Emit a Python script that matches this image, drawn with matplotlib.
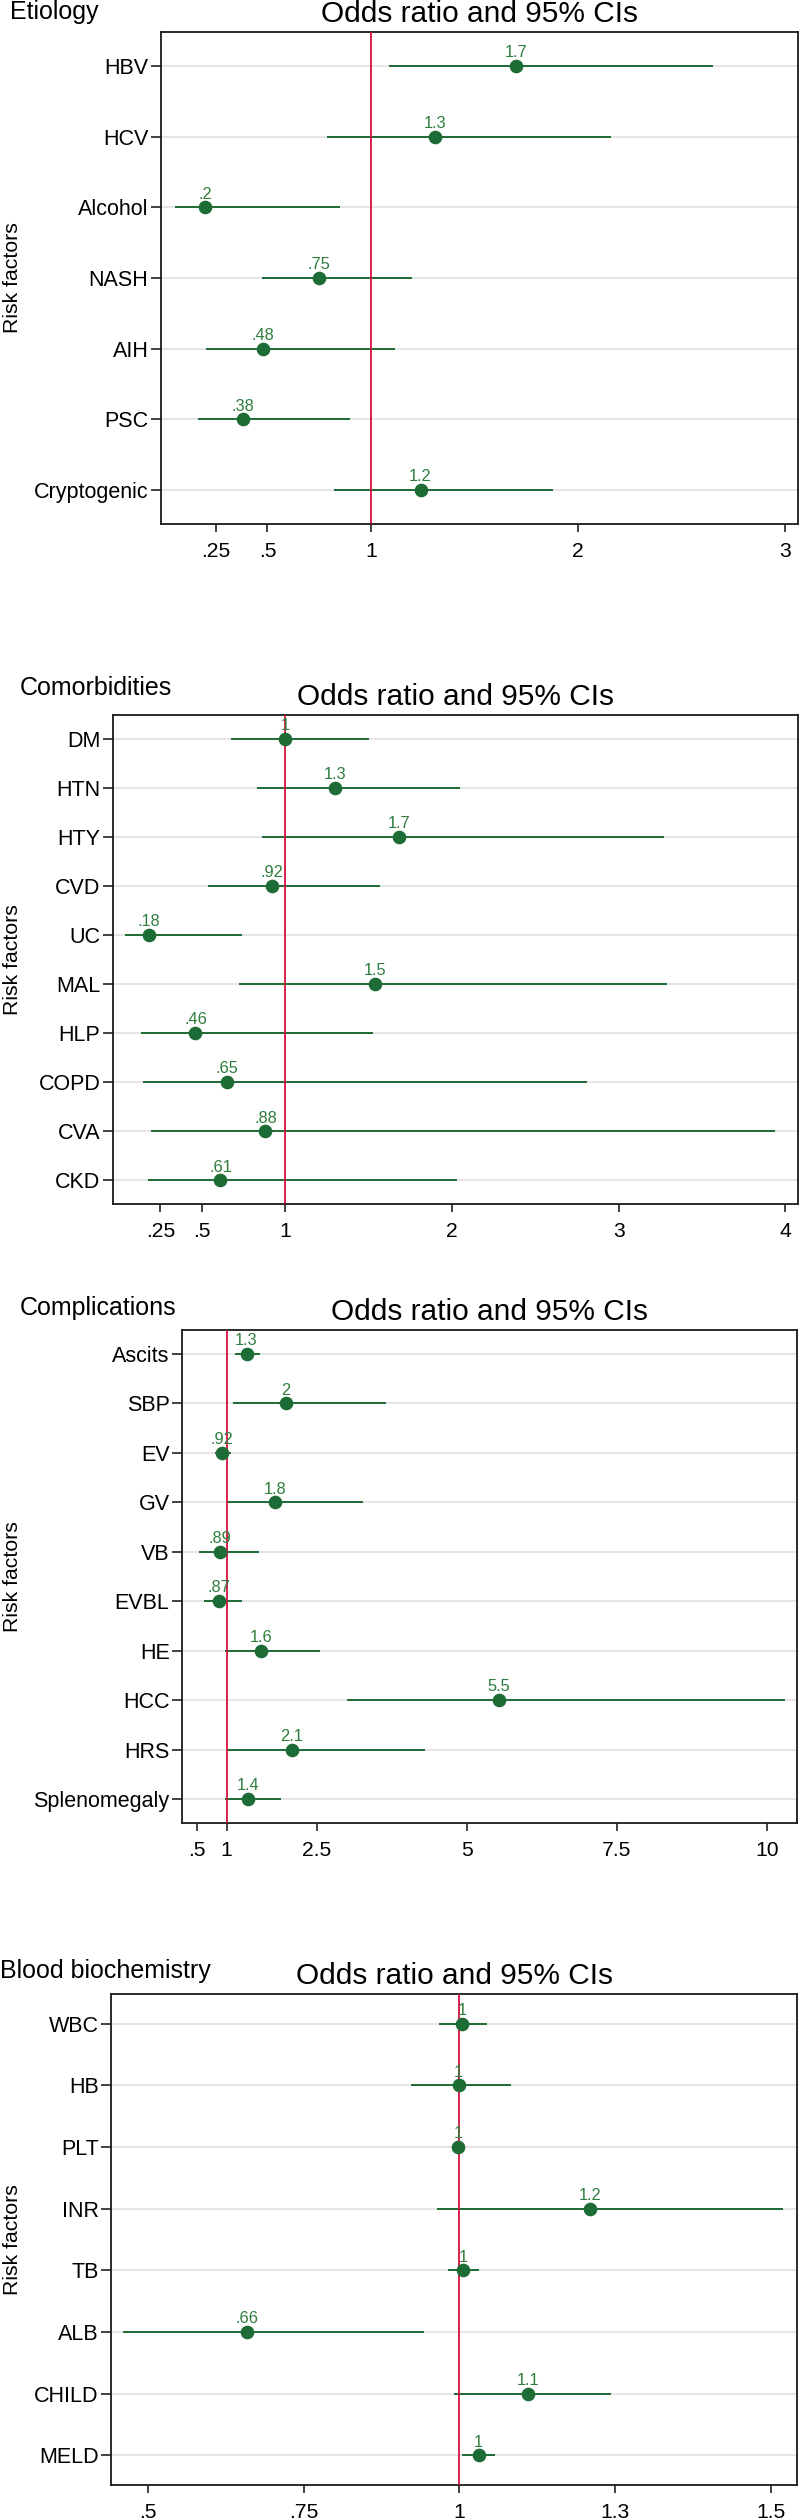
import numpy as np
import matplotlib.pyplot as plt

plt.rcParams['font.family'] = ['Liberation Sans', 'DejaVu Sans']

# Panel data: names, odds ratio, lower CI, upper CI
etio_names = ['HBV', 'HCV', 'Alcohol', 'NASH', 'AIH', 'PSC', 'Cryptogenic']
etio_or = [1.70, 1.31, 0.20, 0.75, 0.48, 0.38, 1.24]
etio_lo = [1.086, 0.79, 0.052, 0.473, 0.204, 0.165, 0.823]
etio_hi = [2.65, 2.16, 0.85, 1.20, 1.118, 0.897, 1.88]

comor_names = ['DM', 'HTN', 'HTY', 'CVD', 'UC', 'MAL', 'HLP', 'COPD', 'CVA', 'CKD']
comor_or = [1.00, 1.30, 1.68, 0.92, 0.18, 1.54, 0.46, 0.65, 0.88, 0.61]
comor_lo = [0.674, 0.828, 0.862, 0.535, 0.04, 0.723, 0.135, 0.145, 0.194, 0.178]
comor_hi = [1.50, 2.046, 3.27, 1.566, 0.742, 3.29, 1.523, 2.81, 3.94, 2.03]

compl_names = ['Ascits', 'SBP', 'EV', 'GV', 'VB', 'EVBL', 'HE', 'HCC', 'HRS', 'Splenomegaly']
compl_or = [1.33, 1.99, 0.916, 1.80, 0.89, 0.873, 1.57, 5.54, 2.08, 1.36]
compl_lo = [1.144, 1.10, 0.805, 1.01, 0.534, 0.62, 0.975, 3.0, 1.01, 0.975]
compl_hi = [1.56, 3.65, 1.076, 3.27, 1.53, 1.25, 2.56, 10.3, 4.30, 1.91]

blood_names = ['WBC', 'HB', 'PLT', 'INR', 'TB', 'ALB', 'CHILD', 'MELD']
blood_or = [1.004, 0.999, 0.998, 1.21, 1.006, 0.659, 1.11, 1.031]
blood_lo = [0.967, 0.923, 0.995, 0.964, 0.982, 0.461, 0.992, 1.004]
blood_hi = [1.045, 1.083, 1.002, 1.52, 1.031, 0.944, 1.243, 1.058]

# x ticks per panel
etio_ticks = [0.25, 0.5, 1, 2, 3]
etio_tlab = ['.25', '.5', '1', '2', '3']
comor_ticks = [0.25, 0.5, 1, 2, 3, 4]
comor_tlab = ['.25', '.5', '1', '2', '3', '4']
compl_ticks = [0.5, 1, 2.5, 5, 7.5, 10]
compl_tlab = ['.5', '1', '2.5', '5', '7.5', '10']
blood_ticks = [0.5, 0.75, 1, 1.25, 1.5]
blood_tlab = ['.5', '.75', '1', '1.3', '1.5']

W, H = 800, 2519
fig = plt.figure(figsize=(W / 100, H / 100), dpi=100)

GREEN = '#1d6b35'
LABEL_GREEN = '#2e7d3c'
RED = '#d4103c'


def fmt(v):
    s = f"{v:.2g}"
    if s.startswith('0.'):
        s = s[1:]
    return s


def panel(box, xlim, header, header_xy, names, ors, los, his, ticks, tlabs):
    left, right, top, bottom = box
    ax = fig.add_axes([left / W, 1 - bottom / H, (right - left) / W, (bottom - top) / H])
    n = len(names)
    y = np.arange(n)
    for yi in y:
        ax.axhline(yi, color='#e3e3e3', lw=1.3, zorder=1)
    ax.hlines(y, los, his, color=GREEN, lw=1.4, zorder=2)
    ax.axvline(1, color=RED, lw=1.3, zorder=3)
    ax.plot(ors, y, 'o', color=GREEN, ms=8.8, zorder=4)
    for v, yi in zip(ors, y):
        ax.annotate(fmt(v), (v, yi), xytext=(0, 6.3), textcoords='offset points',
                    ha='center', va='baseline', fontsize=11.8, color=LABEL_GREEN, zorder=5)
    ax.set_ylim(n - 1 + 0.48, -0.48)
    ax.set_xlim(*xlim)
    ax.set_yticks(y)
    ax.set_yticklabels(names, fontsize=15.5)
    ax.set_xticks(ticks)
    ax.set_xticklabels(tlabs, fontsize=15.2)
    ax.tick_params(axis='y', length=7, width=1.2, pad=2, color='#222222')
    ax.tick_params(axis='x', length=5.8, width=1.2, pad=7, color='#222222')
    for sp in ax.spines.values():
        sp.set_linewidth(1.3)
        sp.set_color('#1a1a1a')
    ax.set_ylabel('Risk factors', fontsize=15.3)
    ax.yaxis.set_label_coords((22 - left) / (right - left), 0.5)
    ax.set_title('Odds ratio and 95% CIs', fontsize=21.5, pad=7)
    fig.text(header_xy[0] / W, 1 - header_xy[1] / H, header, fontsize=18,
             ha='left', va='baseline')
    return ax


panel((161, 798, 32, 524), (-0.014, 3.063), 'Etiology', (10, 19),
      etio_names, etio_or, etio_lo, etio_hi, etio_ticks, etio_tlab)
panel((113, 798, 715, 1204), (-0.035, 4.076), 'Comorbidities', (20, 695),
      comor_names, comor_or, comor_lo, comor_hi, comor_ticks, comor_tlab)
panel((182, 797, 1330, 1823), (0.255, 10.5), 'Complications', (20, 1315),
      compl_names, compl_or, compl_lo, compl_hi, compl_ticks, compl_tlab)
panel((111, 797, 1994, 2485), (0.441, 1.542), 'Blood biochemistry', (0, 1978),
      blood_names, blood_or, blood_lo, blood_hi, blood_ticks, blood_tlab)

fig.savefig('out.png', dpi=100)
